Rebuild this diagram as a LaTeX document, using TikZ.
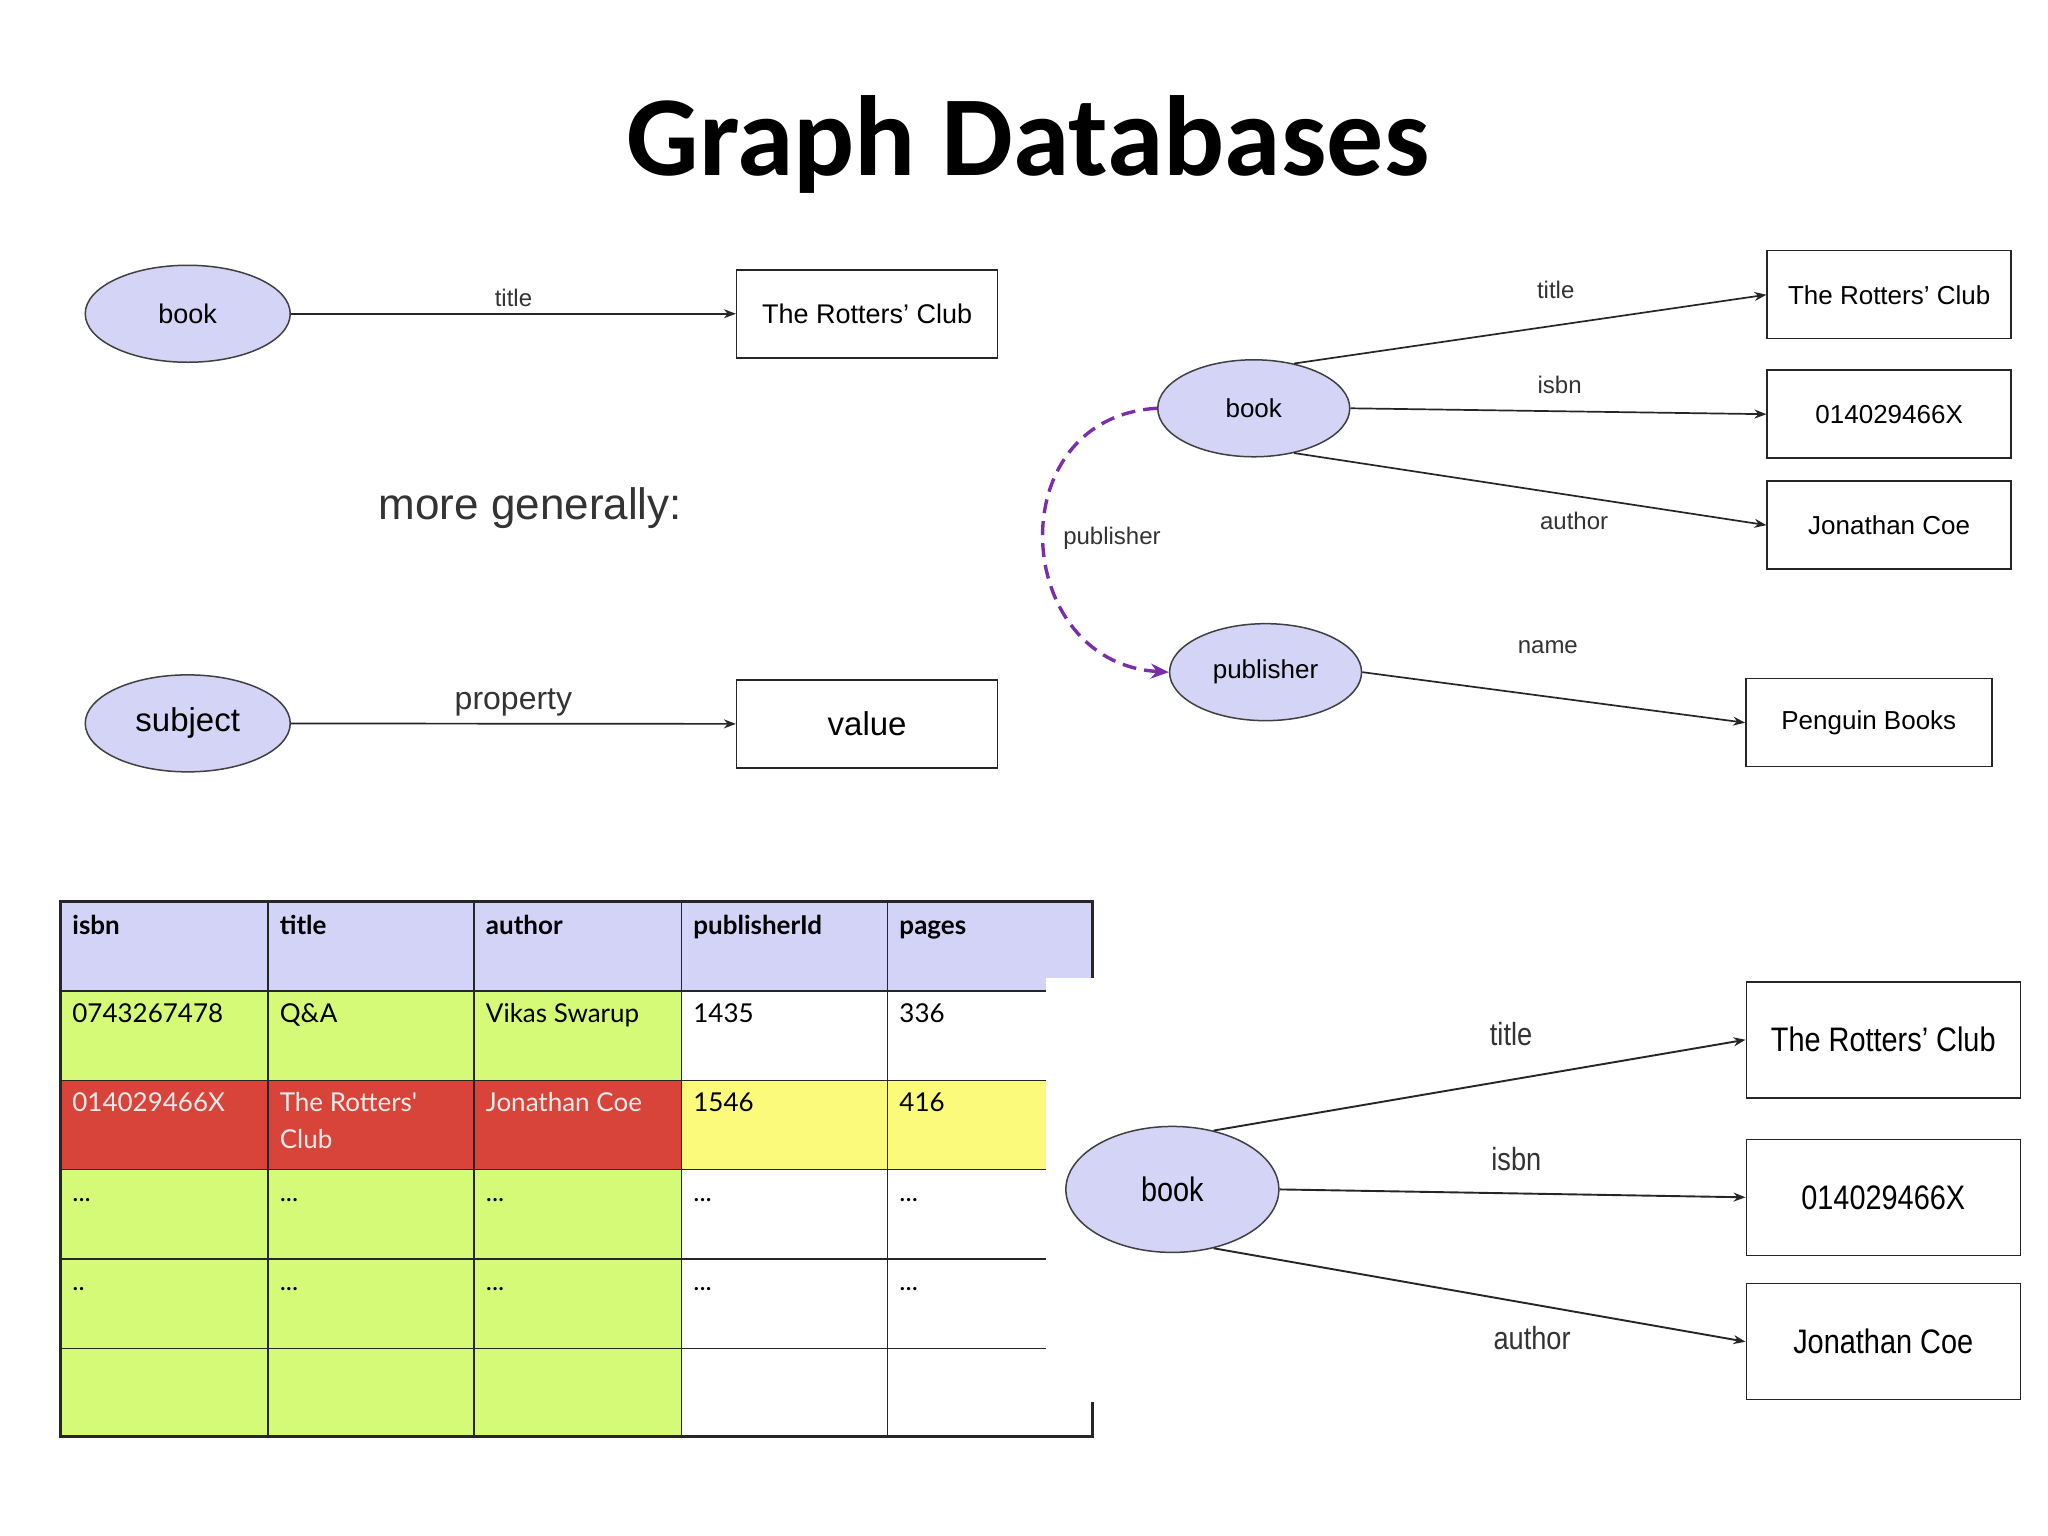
\documentclass[tikz,border=0pt]{standalone}
\usepackage{fontspec}
\setmainfont{Liberation Sans}
\newfontfamily\ttl{Carlito}
\newfontfamily\tbl{Lato}
\usetikzlibrary{arrows.meta,shapes.geometric}
\definecolor{lav}{HTML}{D4D4F6}
\definecolor{hdr}{HTML}{D2D3F7}
\definecolor{grn}{HTML}{D5FA77}
\definecolor{rd}{HTML}{D8443A}
\definecolor{yl}{HTML}{FBFA7A}
\definecolor{pur}{HTML}{7A2FA8}
\begin{document}
\begin{tikzpicture}[x=1.313pt,y=-1.313pt,
  ell/.style={ellipse,draw=black!75,fill=lav,line width=1.5pt,inner sep=0},
  box/.style={draw=black!85,line width=1.5pt,inner sep=0,fill=white},
  arr/.style={line width=1.7pt,black!85,-{Stealth[length=12pt,width=9pt]}},
  lab/.style={font=\fontsize{24}{26}\selectfont,text=black!80},
  cell/.style={anchor=base west,inner sep=0,font=\tbl\fontsize{26}{30}\selectfont},
  hcell/.style={cell,font=\tbl\bfseries\fontsize{26}{30}\selectfont}]
\useasboundingbox[fill=white] (0,0) rectangle (1560,1170);
\node[font=\ttl\bfseries\fontsize{114}{120}\selectfont] (title) at (783,110) {Graph Databases};
% top-left
\node[ell,minimum width=205pt,minimum height=97pt,font=\fontsize{27}{30}\selectfont] (b1) at (143,239) {book};
\node[box,minimum width=261pt,minimum height=88pt,font=\fontsize{27}{30}\selectfont] (r1) at (660.5,239) {The Rotters' Club};
\draw[arr] (b1) -- (r1) node[lab,midway,above=3pt] {title};
\node[font=\fontsize{44}{50}\selectfont,text=black!80] (mg) at (404,387) {more generally:};
\node[ell,minimum width=205pt,minimum height=97pt,font=\fontsize{33}{36}\selectfont] (sub) at (143,551) {subject};
\node[box,minimum width=261pt,minimum height=88pt,font=\fontsize{33}{36}\selectfont] (val) at (660.5,551.5) {value};
\draw[arr] (sub) -- (val) node[lab,font=\fontsize{32}{36}\selectfont,midway,above=3pt] {property};
% right graph
\begin{scope}[every node/.append style={font=\fontsize{26}{30}\selectfont}]
\node[ell,minimum width=192pt,minimum height=97pt] (b2) at (955,311) {book};
\node[box,minimum width=244pt,minimum height=88pt] (t2) at (1439,224.5) {The Rotters' Club};
\node[box,minimum width=244pt,minimum height=88pt] (i2) at (1439,315.5) {014029466X};
\node[box,minimum width=244pt,minimum height=88pt] (a2) at (1439,400) {Jonathan Coe};
\node[ell,minimum width=192pt,minimum height=97pt] (p2) at (964,512) {publisher};
\node[box,minimum width=246pt,minimum height=88pt] (pb) at (1423.5,550.5) {Penguin Books};
\end{scope}
\draw[arr] (b2.48) -- (t2.west);
\draw[arr] (b2.east) -- (i2.west);
\draw[arr] (b2.-48) -- (a2.west);
\draw[arr] (p2.east) -- (pb.west);
\node[lab] at (1185,221) {title};
\node[lab] at (1188,293) {isbn};
\node[lab] at (1199,397) {author};
\node[lab] at (1179,493) {name};
\draw[pur,line width=3.4pt,dash pattern=on 14pt off 8pt,-{Stealth[length=18pt,width=15pt]}] (b2.west) .. controls (760,318) and (770,505) .. (p2.west);
\node[lab] at (847,410) {publisher};
% table
\fill[hdr] (46,687) rectangle (832,755);
\fill[grn] (46,755) rectangle (519,823);
\fill[rd] (46,823) rectangle (519,891);
\fill[yl] (519,823) rectangle (832,891);
\fill[grn] (46,891) rectangle (519,1094);
\begin{scope}[line width=1.5pt,black!85]
\foreach \y in {755,823,891,959,1027} \draw (46,\y) -- (832,\y);
\foreach \x in {204,361,519,676} \draw (\x,687) -- (\x,1094);
\end{scope}
\draw[line width=3pt,black!85] (46,687) -- (832,687) -- (832,1094) -- (46,1094) -- cycle;
\fill[white] (797,745) rectangle (842,1068);
\foreach \x/\t in {55/isbn,213/title,370/author,528/publisherId,685/pages}
  \node[hcell] at (\x,712) {\t};
\foreach \x/\t in {55/0743267478,213/Q\&A,370/Vikas Swarup,528/1435,685/336}
  \node[cell] at (\x,779) {\t};
\foreach \x/\t in {55/014029466X,213/The Rotters',370/Jonathan Coe}
  \node[cell,text=white!92!black] at (\x,847) {\t};
\node[cell,text=white!92!black] at (213,875) {Club};
\node[cell] at (528,847) {1546};
\node[cell] at (685,847) {416};
\foreach \x in {55,213,370,528,685} \node[cell] at (\x,915) {...};
\node[cell] at (55,983) {..};
\foreach \x in {213,370,528,685} \node[cell] at (\x,983) {...};
% bottom right
\begin{scope}[every node/.append style={font=\fontsize{34}{38}\selectfont}]
\node[ell,minimum width=213pt,minimum height=126pt] (b3) at (893,906) {\scalebox{0.85}[1]{book}};
\node[box,minimum width=274pt,minimum height=116pt] (t3) at (1434.5,792) {\scalebox{0.85}[1]{The Rotters' Club}};
\node[box,minimum width=274pt,minimum height=116pt] (i3) at (1434.5,912) {\scalebox{0.85}[1]{014029466X}};
\node[box,minimum width=274pt,minimum height=116pt] (a3) at (1434.5,1022) {\scalebox{0.85}[1]{Jonathan Coe}};
\end{scope}
\draw[arr,line width=1.9pt] (b3.55) -- (t3.west);
\draw[arr,line width=1.9pt] (b3.east) -- (i3.west);
\draw[arr,line width=1.9pt] (b3.-55) -- (a3.west);
\begin{scope}[every node/.append style={lab,font=\fontsize{32}{36}\selectfont}]
\node at (1151,788) {\scalebox{0.85}[1]{title}};
\node at (1155,883) {\scalebox{0.85}[1]{isbn}};
\node at (1167,1019) {\scalebox{0.85}[1]{author}};
\end{scope}
\end{tikzpicture}
\end{document}
